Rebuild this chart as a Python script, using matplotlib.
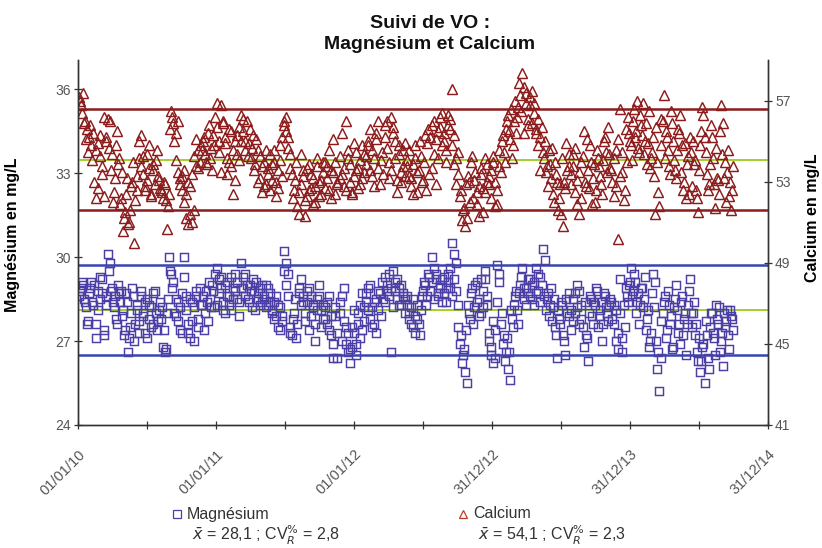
import pandas as pd
import matplotlib
matplotlib.use('Agg')
import matplotlib.pyplot as plt
from matplotlib.lines import Line2D

plt.rcParams['font.family'] = ['Liberation Sans', 'DejaVu Sans']

# Magnesium control values (mg/L) in time order
mg = [
    28.6, 28.9, 29.0, 28.4, 27.6, 28.7, 29.1, 28.3, 27.1, 28.8, 28.5, 29.2, 27.4, 28.6, 30.1, 29.8, 28.9, 28.2, 27.8, 29.0,
    28.4, 27.9, 27.2, 28.7, 26.6, 27.5, 28.9, 27.0, 28.3, 27.7, 28.6, 28.0, 27.3, 28.5, 27.8, 28.2, 27.6, 28.8, 27.4, 28.1,
    27.8, 26.8, 26.6, 28.0, 30.0, 29.4, 29.1, 28.5, 27.7, 28.2, 27.3, 30.0, 28.6, 27.6, 27.1, 28.4, 27.0, 28.8, 27.5, 28.9,
    28.3, 27.4, 28.8, 27.7, 28.5, 29.0, 28.2, 29.6, 28.7, 29.3, 28.4, 28.0, 29.1, 28.6, 28.1, 28.9, 29.4, 28.5, 27.9, 29.8,
    29.3, 28.6, 29.0, 28.4, 28.8, 29.2, 28.1, 28.7, 28.3, 29.0, 28.5, 28.2, 28.9, 28.4, 28.0, 27.8, 28.6, 27.5, 28.2, 27.7,
    30.2, 29.8, 29.4, 27.5, 27.2, 28.0, 27.1, 28.7, 29.2, 28.4, 28.0, 28.8, 27.4, 28.6, 28.2, 27.0, 28.5, 29.0, 28.1, 27.8,
    28.2, 27.6, 28.6, 27.2, 26.4, 27.9, 26.4, 28.4, 27.0, 28.9, 27.5, 26.6, 26.2, 26.8, 27.3, 26.5, 28.0, 27.1, 28.7, 27.7,
    28.7, 28.1, 29.0, 27.5, 28.4, 27.3, 28.8, 27.9, 28.5, 29.3, 29.0, 28.6, 26.6, 29.5, 28.8, 29.2, 28.3, 29.0, 28.6, 28.0,
    28.3, 28.0, 27.6, 28.5, 27.3, 27.8, 27.2, 28.6, 29.1, 28.3, 29.4, 28.8, 30.0, 29.6, 29.2, 28.7, 29.0, 28.4, 29.3, 28.9,
    29.4, 28.9, 30.5, 30.1, 29.8, 28.3, 27.2, 26.5, 25.9, 25.5, 28.0, 28.7, 27.6, 29.0, 28.4, 27.9, 29.2, 28.2, 29.5, 28.6,
    27.0, 26.5, 26.2, 27.4, 29.7, 29.4, 28.0, 27.2, 26.6, 26.0, 25.6, 27.8, 28.3, 28.8, 27.6, 29.0, 29.6, 28.5, 28.9, 29.2,
    28.6, 29.0, 28.3, 29.6, 28.8, 29.3, 30.3, 29.9, 28.5, 27.9, 28.9, 28.2, 27.5, 26.4, 27.8, 28.4, 27.2, 26.5, 28.0, 28.7,
    27.4, 28.5, 28.0, 29.0, 27.6, 28.3, 26.8, 27.2, 26.3, 28.6, 27.9, 28.4, 28.9, 27.5, 28.1, 27.0, 28.7, 28.2, 27.7, 28.5,
    27.8, 28.3, 27.0, 26.7, 29.2, 26.6, 27.5, 28.6, 29.0, 29.6, 28.8, 29.1, 28.4, 27.6, 28.9, 28.2, 29.3, 27.8, 26.8, 27.3,
    29.4, 29.1, 26.0, 25.2, 26.4, 28.4, 27.1, 28.8, 27.6, 26.7, 28.2, 29.0, 27.3, 26.9, 28.6, 27.8, 26.5, 28.3, 29.2, 27.5,
    28.4, 27.6, 26.3, 25.9, 26.8, 25.5, 27.2, 26.0, 28.0, 27.3, 26.5, 27.8, 28.2, 27.0, 26.1, 27.5, 28.1, 26.7, 27.9, 27.4,
]

# second run of magnesium controls, taken between the ones above
mg_b = [
    28.8, 29.1, 28.5, 28.2, 27.7, 28.9, 28.4, 29.0, 27.6, 28.1, 29.3, 28.7, 27.2, 28.3, 29.5, 28.8, 28.4, 28.6, 27.6, 28.7,
    28.8, 28.1, 27.4, 28.4, 27.1, 28.0, 28.6, 27.6, 28.1, 27.3, 28.8, 27.9, 28.4, 27.1, 28.3, 27.5, 28.7, 28.0, 27.7, 28.4,
    28.2, 27.4, 26.7, 28.5, 29.5, 28.9, 28.0, 27.9, 28.4, 27.4, 28.7, 29.3, 28.1, 27.3, 28.5, 27.7, 28.2, 28.6, 27.8, 28.3,
    28.6, 28.0, 28.4, 29.1, 28.2, 28.8, 29.4, 28.3, 29.2, 28.9, 28.1, 29.0, 28.6, 28.3, 29.3, 28.5, 28.8, 29.1, 28.4, 28.9,
    28.9, 29.4, 28.5, 29.0, 28.2, 28.8, 29.1, 28.5, 28.9, 28.4, 28.6, 29.0, 28.3, 28.7, 28.1, 28.4, 27.9, 28.3, 27.4, 27.9,
    29.5, 29.0, 28.6, 27.3, 27.8, 28.5, 27.6, 28.9, 28.3, 28.6, 27.7, 28.4, 28.9, 27.9, 28.3, 27.6, 28.1, 28.6, 27.5, 28.3,
    27.8, 28.4, 27.4, 27.9, 26.9, 28.2, 27.3, 28.0, 28.6, 27.7, 26.9, 27.3, 26.7, 27.5, 28.1, 26.9, 27.6, 28.3, 27.4, 28.2,
    28.4, 28.9, 27.8, 28.2, 27.6, 28.5, 28.1, 28.7, 29.1, 28.4, 28.8, 29.4, 28.9, 28.2, 29.1, 28.5, 28.9, 28.3, 28.7, 28.5,
    28.6, 27.8, 28.2, 27.5, 27.9, 28.3, 27.6, 28.1, 28.8, 29.0, 28.6, 29.3, 29.1, 28.5, 29.4, 28.6, 28.9, 29.2, 28.7, 28.4,
    29.1, 29.6, 28.6, 29.2, 28.8, 27.5, 26.9, 26.2, 26.7, 27.4, 28.3, 27.8, 28.9, 28.2, 29.1, 28.5, 28.0, 28.8, 29.2, 28.3,
    27.3, 26.8, 27.7, 26.4, 28.4, 29.1, 27.6, 26.9, 26.3, 27.1, 26.6, 28.1, 27.5, 28.6, 28.1, 28.7, 29.3, 28.9, 28.3, 28.7,
    29.2, 28.5, 29.1, 28.7, 29.4, 28.4, 29.0, 28.6, 28.1, 28.7, 28.3, 27.7, 28.5, 27.2, 28.1, 27.6, 28.3, 27.0, 28.5, 27.9,
    28.1, 27.7, 28.7, 28.2, 28.8, 27.8, 27.5, 28.4, 27.1, 28.0, 28.5, 27.6, 28.3, 28.8, 27.9, 28.4, 27.6, 28.6, 28.0, 28.3,
    28.4, 27.6, 28.1, 27.3, 28.0, 27.1, 28.3, 28.9, 28.4, 29.1, 28.6, 29.4, 28.0, 28.7, 28.3, 28.9, 28.5, 27.4, 28.1, 27.0,
    28.7, 28.2, 27.0, 26.6, 27.7, 28.0, 28.6, 27.4, 28.3, 27.9, 26.8, 28.5, 28.1, 27.6, 28.4, 27.2, 28.0, 27.6, 28.8, 28.0,
    28.0, 27.2, 26.6, 27.1, 26.3, 26.9, 27.7, 26.4, 27.5, 28.0, 27.1, 28.3, 27.6, 26.6, 27.3, 28.0, 27.7, 27.2, 28.1, 27.8,
]

# Calcium control values (mg/L)
ca = [
    57.2, 56.8, 57.4, 56.0, 55.6, 55.2, 54.8, 55.4, 54.6, 52.7, 54.3, 53.4, 52.3, 55.0, 56.1, 56.0, 54.4, 52.5, 54.8, 53.9,
    51.9, 53.5, 51.2, 52.4, 50.9, 51.6, 53.0, 50.0, 52.6, 54.2, 55.3, 53.4, 52.8, 54.4, 53.7, 52.3, 53.9, 52.9, 54.6, 53.1,
    52.6, 52.2, 52.9, 50.7, 52.4, 56.5, 55.9, 55.4, 56.0, 53.2, 52.6, 53.6, 52.4, 53.0, 51.4, 51.0, 51.6, 53.8, 54.6, 54.0,
    54.6, 55.2, 54.0, 55.4, 54.2, 53.6, 54.8, 56.9, 55.0, 56.8, 56.0, 55.2, 54.2, 55.6, 53.8, 52.4, 55.0, 54.4, 55.7, 56.3,
    55.5, 54.6, 56.0, 54.9, 54.2, 55.3, 53.9, 54.6, 53.2, 52.5, 54.0, 52.9, 53.7, 54.4, 53.1, 54.0, 52.3, 53.6, 54.8, 53.3,
    55.8, 56.2, 55.2, 54.4, 53.4, 52.6, 54.0, 51.4, 52.9, 53.6, 51.3, 52.3, 53.9, 52.7, 53.2, 52.0, 54.2, 53.0, 52.4, 53.5,
    54.0, 53.2, 52.6, 53.6, 55.1, 52.4, 53.0, 54.3, 53.4, 52.8, 56.0, 54.6, 53.9, 52.5, 53.3, 54.5, 53.7, 52.9, 54.8, 53.5,
    54.3, 55.0, 53.6, 54.6, 52.8, 55.4, 56.0, 54.1, 53.4, 55.2, 54.7, 53.2, 56.2, 55.7, 55.0, 52.5, 54.4, 53.0, 53.8, 54.9,
    53.8, 54.6, 53.2, 52.4, 54.2, 53.5, 55.0, 53.0, 54.0, 52.6, 55.6, 55.2, 53.7, 54.4, 52.9, 55.5, 56.2, 54.8, 55.4, 54.6,
    55.8, 56.1, 57.6, 55.3, 54.2, 53.4, 52.6, 51.6, 50.8, 51.2, 53.0, 54.0, 52.2, 53.5, 51.9, 52.8, 53.7, 51.5, 52.5, 53.9,
    52.9, 53.6, 54.3, 51.8, 52.6, 53.8, 55.0, 54.5, 55.6, 56.3, 55.1, 54.2, 56.0, 55.4, 56.7, 57.3, 58.4, 57.7, 56.9, 55.8,
    57.2, 57.5, 56.4, 55.6, 56.1, 55.2, 54.5, 55.0, 53.8, 54.6, 53.2, 52.4, 54.0, 53.0, 52.2, 51.4, 50.8, 52.7, 53.6, 54.4,
    53.4, 54.4, 52.5, 53.1, 51.4, 54.0, 55.5, 52.8, 53.6, 54.8, 51.9, 53.9, 52.6, 54.2, 53.3, 52.4, 55.0, 54.5, 55.7, 53.7,
    53.0, 52.3, 54.6, 50.2, 56.6, 53.5, 52.6, 54.0, 55.4, 54.8, 56.0, 55.2, 57.0, 54.5, 55.8, 56.9, 55.0, 53.9, 56.5, 54.2,
    55.2, 51.4, 54.0, 51.8, 56.1, 57.3, 55.5, 54.6, 53.4, 55.9, 54.1, 53.2, 55.6, 56.3, 54.8, 53.0, 52.2, 54.3, 55.2, 52.8,
    53.9, 52.6, 51.5, 54.8, 56.7, 55.2, 53.4, 52.9, 55.8, 54.2, 51.7, 53.2, 52.4, 56.8, 55.9, 54.0, 53.5, 52.3, 51.6, 53.8,
]

# second run of calcium controls
ca_b = [
    57.0, 56.4, 55.9, 55.1, 54.5, 55.8, 54.1, 53.0, 52.2, 54.9, 55.3, 53.8, 56.2, 55.2, 54.7, 53.6, 52.0, 53.2, 55.5, 54.2,
    52.2, 50.6, 51.5, 53.2, 51.0, 52.8, 54.0, 52.1, 53.3, 55.0, 53.8, 54.3, 52.6, 53.1, 54.8, 52.4, 53.6, 54.1, 53.3, 52.7,
    52.5, 53.0, 52.1, 51.8, 55.6, 56.2, 55.0, 54.1, 53.5, 52.9, 53.3, 52.0, 51.2, 50.9, 52.8, 53.4, 54.3, 55.1, 53.7, 54.8,
    55.0, 54.4, 53.9, 55.8, 54.7, 55.3, 56.2, 55.7, 54.5, 53.5, 55.9, 54.9, 53.4, 54.0, 55.5, 54.6, 53.1, 55.3, 54.1, 55.0,
    56.1, 55.0, 54.3, 55.6, 54.7, 53.6, 55.1, 53.0, 54.3, 53.8, 52.8, 54.6, 53.4, 52.6, 53.9, 54.6, 53.0, 52.7, 54.1, 55.2,
    56.0, 55.5, 54.7, 53.7, 52.2, 53.1, 51.8, 52.5, 54.4, 53.3, 52.1, 53.7, 52.6, 53.4, 51.9, 52.8, 53.8, 52.3, 53.1, 54.0,
    52.7, 53.8, 54.6, 52.2, 53.5, 54.0, 52.9, 53.2, 55.4, 53.7, 52.6, 54.2, 53.0, 52.4, 54.9, 53.6, 52.7, 54.1, 53.2, 54.4,
    53.9, 54.8, 55.6, 53.3, 54.2, 55.1, 53.7, 52.9, 54.5, 55.8, 56.0, 54.0, 53.6, 55.4, 54.2, 53.1, 54.8, 53.5, 54.6, 53.3,
    54.1, 53.3, 52.8, 53.9, 54.8, 52.5, 53.6, 54.3, 53.1, 55.3, 54.9, 53.4, 55.8, 56.0, 55.1, 54.2, 55.7, 56.4, 55.0, 54.0,
    56.3, 55.6, 54.8, 53.9, 52.9, 54.5, 52.3, 51.1, 51.7, 52.9, 53.3, 52.0, 54.3, 53.1, 52.5, 51.3, 53.4, 52.7, 54.2, 53.0,
    53.3, 52.2, 54.0, 53.0, 51.9, 54.6, 53.5, 55.3, 54.0, 56.0, 55.5, 56.6, 54.8, 57.0, 56.2, 57.9, 56.5, 55.4, 57.4, 56.1,
    56.8, 55.9, 56.9, 55.4, 54.8, 53.6, 55.7, 54.2, 53.5, 52.8, 53.9, 54.7, 52.0, 53.4, 51.6, 52.9, 54.2, 53.0, 54.9, 53.8,
    52.9, 53.8, 54.7, 51.9, 53.5, 52.2, 54.3, 53.0, 55.1, 52.7, 54.0, 53.2, 52.0, 54.6, 53.8, 52.9, 54.1, 55.2, 53.5, 54.4,
    53.6, 54.2, 52.8, 55.1, 53.3, 54.5, 52.1, 55.6, 56.2, 55.0, 54.1, 56.6, 55.5, 54.7, 56.3, 55.3, 54.4, 55.9, 54.9, 53.7,
    54.5, 53.3, 55.7, 52.5, 54.8, 56.0, 54.2, 55.2, 53.8, 56.5, 55.0, 53.6, 54.6, 55.4, 53.5, 52.6, 54.9, 53.9, 52.4, 54.5,
    55.0, 54.1, 52.2, 53.6, 55.5, 56.3, 54.5, 52.6, 53.9, 55.2, 52.9, 54.7, 53.1, 55.5, 54.4, 53.2, 52.0, 54.6, 53.0, 52.6,
]

first_day, last_day = '2010-01-04', '2014-09-30'
first_day_b, last_day_b = '2010-01-06', '2014-09-27'

mg_mean, mg_low, mg_high = 28.1, 26.5, 29.7
ca_mean, ca_low, ca_high = 54.1, 51.6, 56.6

tick_labels = ['01/01/10', '01/01/11', '01/01/12', '31/12/12', '31/12/13', '31/12/14']

mg_col = '#4b3fa6'
mg_line = '#3646b0'
ca_col = '#8c1c1c'
green = '#9ccc1e'

mg_dates = pd.date_range(first_day, last_day, periods=len(mg)).append(
    pd.date_range(first_day_b, last_day_b, periods=len(mg_b)))
ca_dates = pd.date_range(first_day, last_day, periods=len(ca)).append(
    pd.date_range(first_day_b, last_day_b, periods=len(ca_b)))
major = pd.date_range('2010-01-01', periods=len(tick_labels), freq='365D')
minor = pd.date_range('2010-01-01', periods=2 * len(tick_labels) - 1, freq='4380h')

fig = plt.figure(figsize=(8.22, 5.48), dpi=100)
ax = fig.add_axes([78 / 822, 1 - 425 / 548, 690 / 822, 365 / 548])
ax2 = ax.twinx()

# magnesium on left axis
ax.axhline(mg_high, color=mg_line, lw=1.8, zorder=1)
ax.axhline(mg_low, color=mg_line, lw=1.8, zorder=1)
ax.axhline(mg_mean, color=green, lw=1.3, zorder=1)
ax.plot(mg_dates, mg + mg_b, ls='none', marker='s', ms=5.8, mfc='none', mec=mg_col, mew=1.05, zorder=2)

# calcium on right axis
ax2.axhline(ca_high, color=ca_col, lw=1.8, zorder=1)
ax2.axhline(ca_low, color=ca_col, lw=1.8, zorder=1)
ax2.axhline(ca_mean, color=green, lw=1.3, zorder=1)
ax2.plot(ca_dates, ca + ca_b, ls='none', marker='^', ms=7.0, mfc='none', mec=ca_col, mew=1.05, zorder=2)

ax.set_xlim(pd.Timestamp('2010-01-01'), major[-1])
ax.set_ylim(24, 37.04)
ax2.set_ylim(41, 59.02)
ax.set_yticks([24, 27, 30, 33, 36])
ax2.set_yticks([41, 45, 49, 53, 57])
ax.set_xticks(major)
ax.set_xticklabels(tick_labels, rotation=45, ha='right', rotation_mode='anchor')
ax.set_xticks(minor, minor=True)

for a in (ax, ax2):
    a.spines['top'].set_visible(False)
    for s in ('left', 'right', 'bottom'):
        a.spines[s].set_color('#333333')
        a.spines[s].set_linewidth(1.0)
    a.tick_params(axis='y', direction='inout', length=6, width=0.9, color='#333333',
                  labelsize=10, labelcolor='#555555', pad=2)
ax.tick_params(axis='x', which='both', direction='inout', length=6, width=0.9, color='#333333',
               labelsize=10.5, labelcolor='#555555', pad=13)

ax.set_ylabel('Magnésium en mg/L', fontsize=11.5, fontweight='bold')
ax.yaxis.set_label_coords(-0.084, 0.52)
ax2.set_ylabel('Calcium en mg/L', fontsize=11.5, fontweight='bold')
ax2.yaxis.set_label_coords(1.054, 0.567)

fig.text(430 / 822, 1 - 34 / 548, 'Suivi de VO :\nMagnésium et Calcium', ha='center', va='center',
         fontsize=14, fontweight='bold', linespacing=1.25, color='#111111')

# legend block under the chart
legend_items = [
    (177, 's', mg_col, 'Magnésium', r'$\bar{x}$ = 28,1 ; CV$_{R}^{\%}$ = 2,8'),
    (463, '^', '#c0392b', 'Calcium', r'$\bar{x}$ = 54,1 ; CV$_{R}^{\%}$ = 2,3'),
]
for xm, mk, col, name, stat in legend_items:
    fig.add_artist(Line2D([xm / 822], [1 - 514 / 548], transform=fig.transFigure, marker=mk,
                          ms=6, mfc='none', mec=col, mew=0.9, ls='none'))
    fig.text((xm + 10) / 822, 1 - 514 / 548, name, ha='left', va='center', fontsize=11.5, color='#333333')
    fig.text((xm + 15) / 822, 1 - 535 / 548, stat, ha='left', va='center', fontsize=11.5, color='#333333')

fig.savefig('out.png', dpi=100)
